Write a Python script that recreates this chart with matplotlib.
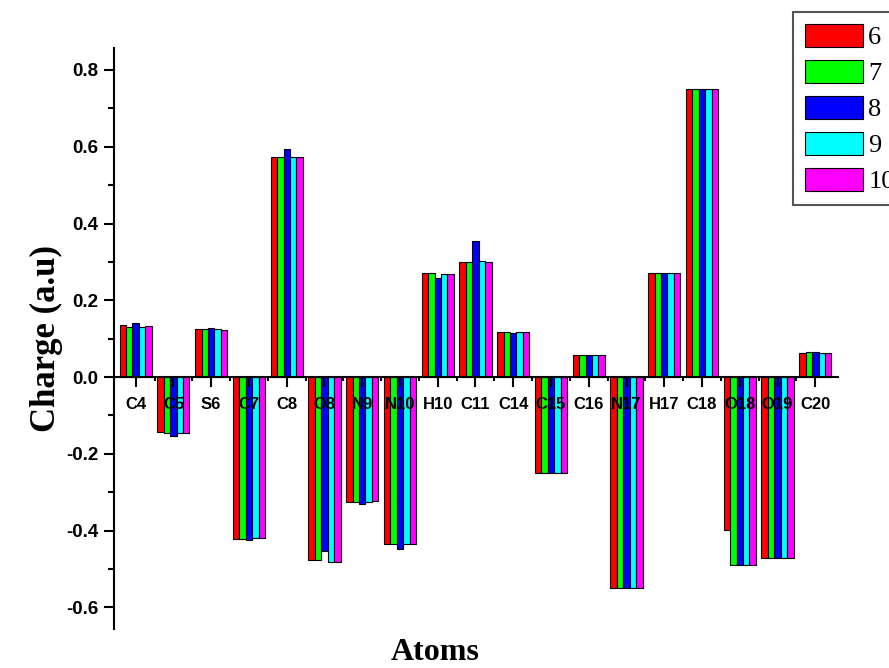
import numpy as np
import matplotlib
matplotlib.use("Agg")
import matplotlib.pyplot as plt
from matplotlib.ticker import MultipleLocator, FixedLocator

# Atom labels along the x axis
atoms = ["C4", "C5", "S6", "C7", "C8", "O8", "N9", "N10", "H10", "C11",
         "C14", "C15", "C16", "N17", "H17", "C18", "O18", "O19", "C20"]

# Charges (a.u) for each series, one value per atom
q6  = [0.135, -0.143, 0.125, -0.421, 0.574, -0.477, -0.325, -0.434, 0.270, 0.300,
       0.118, -0.249, 0.058, -0.549, 0.270, 0.751, -0.399, -0.472, 0.062]
q7  = [0.131, -0.145, 0.125, -0.421, 0.574, -0.477, -0.325, -0.434, 0.270, 0.300,
       0.118, -0.249, 0.058, -0.549, 0.270, 0.751, -0.490, -0.472, 0.064]
q8  = [0.141, -0.154, 0.129, -0.425, 0.594, -0.454, -0.330, -0.448, 0.259, 0.355,
       0.116, -0.249, 0.058, -0.549, 0.270, 0.751, -0.490, -0.472, 0.064]
q9  = [0.131, -0.145, 0.124, -0.420, 0.574, -0.482, -0.325, -0.434, 0.268, 0.302,
       0.118, -0.249, 0.058, -0.549, 0.270, 0.751, -0.490, -0.472, 0.063]
q10 = [0.134, -0.147, 0.122, -0.420, 0.574, -0.482, -0.324, -0.434, 0.268, 0.300,
       0.118, -0.249, 0.058, -0.549, 0.270, 0.751, -0.490, -0.472, 0.062]

series = [("6", q6), ("7", q7), ("8", q8), ("9", q9), ("10", q10)]
colors = ["#FF0000", "#00FF00", "#0000FF", "#00FFFF", "#FF00FF"]

fig = plt.figure(figsize=(8.89, 6.68), dpi=100)
ax = fig.add_axes([0.128, 0.058, 0.815, 0.870])

x = np.arange(len(atoms))
w = 0.17
for i, ((name, vals), c) in enumerate(zip(series, colors)):
    ax.bar(x + (i - 2) * w, vals, width=w, color=c, edgecolor="black",
           linewidth=0.8, label=name, zorder=2)

ax.set_xlim(-0.58, len(atoms) - 1 + 0.61)
ax.set_ylim(-0.657, 0.857)

# axes styling: left spine + zero line with ticks, labels drawn over bars
ax.set_axisbelow(False)
for s in ["top", "right"]:
    ax.spines[s].set_visible(False)
ax.spines["bottom"].set_position(("data", 0))
ax.spines["bottom"].set_linewidth(1.5)
ax.spines["left"].set_linewidth(1.5)
ax.spines["bottom"].set_zorder(3)

ax.set_xticks(x)
ax.set_xticklabels(atoms)
ax.xaxis.set_minor_locator(FixedLocator(x[:-1] + 0.5))
ax.yaxis.set_minor_locator(MultipleLocator(0.1))
yt = np.arange(-0.6, 0.81, 0.2)
ax.set_yticks(yt)
ax.set_yticklabels([f"{v:.1f}" for v in yt])

ax.tick_params(axis="x", which="major", length=7, width=1.5, pad=7)
ax.tick_params(axis="x", which="minor", length=3, width=1.5)
ax.tick_params(axis="y", which="major", length=7, width=1.5, pad=4)
ax.tick_params(axis="y", which="minor", length=4, width=1.5)
for lab in ax.get_xticklabels() + ax.get_yticklabels():
    lab.set_fontfamily("Liberation Sans")
    lab.set_fontweight("bold")
for lab in ax.get_xticklabels():
    lab.set_fontsize(12)
for lab in ax.get_yticklabels():
    lab.set_fontsize(13.5)

ax.set_ylabel("Charge (a.u)", fontsize=25, fontweight="bold",
              family="Liberation Serif", labelpad=2)
fig.text(0.49, 0.002, "Atoms", fontsize=23, fontweight="bold",
         family="Liberation Serif", ha="center", va="bottom")

# legend sits partly past the right edge, as in the original figure
leg = fig.legend(loc="upper left", bbox_to_anchor=(793 / 889, 1 - 12 / 668),
                 prop={"family": "Liberation Serif", "size": 19},
                 handlelength=2.2, handleheight=0.95, labelspacing=0.4,
                 handletextpad=0.2, borderpad=0.45, borderaxespad=0,
                 fancybox=False, framealpha=1)
leg.get_frame().set_edgecolor("#555555")
leg.get_frame().set_linewidth(1.5)

fig.savefig("out.png", dpi=100)
